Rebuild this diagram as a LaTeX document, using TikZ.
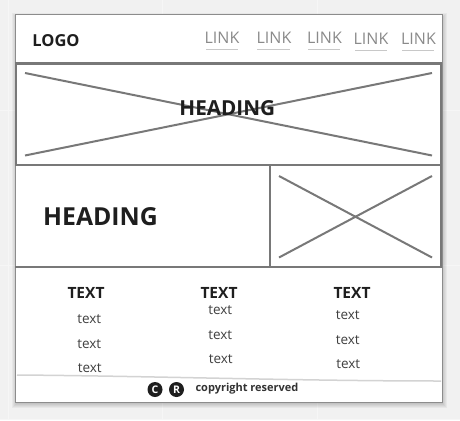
\documentclass[tikz,border=0pt]{standalone}
\usepackage{fontspec}
\setmainfont{Open Sans}
\definecolor{bgc}{HTML}{F1F1F1}
\definecolor{gridc}{HTML}{F6F6F6}
\definecolor{linec}{HTML}{787878}
\definecolor{inkc}{HTML}{1E1E1E}
\definecolor{linkc}{HTML}{8A8A8A}
\definecolor{ulc}{HTML}{C8C8C8}
\tikzset{
  every node/.style={inner sep=0pt,outer sep=0pt,anchor=center},
  logotxt/.style={font=\fontsize{16.5}{18}\selectfont\bfseries,text=inkc},
  headtxt/.style={font=\fontsize{20.7}{22}\selectfont\bfseries,text=inkc},
  bighead/.style={font=\fontsize{24.8}{26}\selectfont\bfseries,text=inkc},
  linktxt/.style={font=\fontsize{16}{18}\selectfont,text=linkc},
  coltitle/.style={font=\fontsize{15.5}{17}\selectfont\bfseries,text=inkc},
  coltxt/.style={font=\fontsize{13.5}{15}\selectfont,text=black!75},
  copytxt/.style={font=\fontsize{11}{12}\selectfont\bfseries,text=black!80},
  boxline/.style={draw=linec,line width=2.3pt},
  thinbox/.style={draw=linec,line width=1.8pt},
  crossline/.style={draw=linec,line width=2pt},
  ulline/.style={draw=ulc,line width=1.5pt},
  softshadow/.style={fill=black,fill opacity=0.04,draw=none},
  badge/.style={circle,fill=inkc,minimum size=15pt,text=white,font=\fontsize{10.5}{11}\selectfont\bfseries}
}
\begin{document}
\begin{tikzpicture}[x=1pt,y=-1pt]
\useasboundingbox (0,0) rectangle (460,420);
\fill[bgc] (0,0) rectangle (460,420);
\foreach \gx in {8,162,317} \draw[gridc,line width=1pt] (\gx,0) -- (\gx,420);
\foreach \gy in {110,265,419} \draw[gridc,line width=1pt] (0,\gy) -- (460,\gy);
% page shadow
\foreach \s in {0,1,2,3,4} {
  \fill[softshadow] ({16-\s},{17-\s}) rectangle ({443+\s},{404+\s});
}
% page
\path[fill=white,draw=black!45,line width=1pt] (15,14.5) rectangle (442,402.5);
% bands
\draw[boxline] (16,63.5) rectangle (441,165);
\draw[thinbox] (15,267) -- (442,267);
\draw[thinbox] (270,166) -- (270,267);
\draw[thinbox] (441,165) -- (441,267);
% placeholders
\coordinate (a1) at (25,73);
\coordinate (a2) at (432,73);
\coordinate (a3) at (25,155.5);
\coordinate (a4) at (432,155.5);
\draw[crossline] (a1) -- (a4);
\draw[crossline] (a3) -- (a2);
\coordinate (b1) at (279,176);
\coordinate (b2) at (432,176);
\coordinate (b3) at (279,257.5);
\coordinate (b4) at (432,257.5);
\draw[crossline] (b1) -- (b4);
\draw[crossline] (b3) -- (b2);
% header
\node[logotxt] (logo) at (56,40.3) {LOGO};
\node[linktxt] (l1) at (222,37.8) {LINK};
\node[linktxt] (l2) at (274,37.8) {LINK};
\node[linktxt] (l3) at (324.5,37.8) {LINK};
\node[linktxt] (l4) at (371,38.8) {LINK};
\node[linktxt] (l5) at (418.5,38.8) {LINK};
\draw[ulline] (206,49.5) -- (238,49.5);
\draw[ulline] (257,49.5) -- (290,49.5);
\draw[ulline] (308,49.5) -- (340,49.5);
\draw[ulline] (355,50.5) -- (387,50.5);
\draw[ulline] (402,50.5) -- (434,50.5);
% headings
\node[headtxt] (h1) at (227.3,108) {HEADING};
\node[bighead] (h2) at (100.5,217) {HEADING};
% columns
\node[coltitle] (t1) at (86,292.5) {TEXT};
\node[coltxt] (x11) at (89.3,319.5) {text};
\node[coltxt] (x12) at (89.3,344.5) {text};
\node[coltxt] (x13) at (89.8,368.5) {text};
\node[coltitle] (t2) at (219,292.5) {TEXT};
\node[coltxt] (x21) at (220.3,310.5) {text};
\node[coltxt] (x22) at (220.3,335.5) {text};
\node[coltxt] (x23) at (220.8,359.5) {text};
\node[coltitle] (t3) at (352,292.5) {TEXT};
\node[coltxt] (x31) at (347.7,315.5) {text};
\node[coltxt] (x32) at (347.7,340.5) {text};
\node[coltxt] (x33) at (348.2,364.5) {text};
% footer
\draw[draw=ulc!80,line width=1.5pt] (17,375) .. controls (150,376) and (300,381) .. (441,381);
\node[badge] (c) at (155,389.5) {C};
\node[badge] (r) at (176.5,389.5) {R};
\node[copytxt] (cr) at (247,389) {copyright reserved};
\end{tikzpicture}
\end{document}
